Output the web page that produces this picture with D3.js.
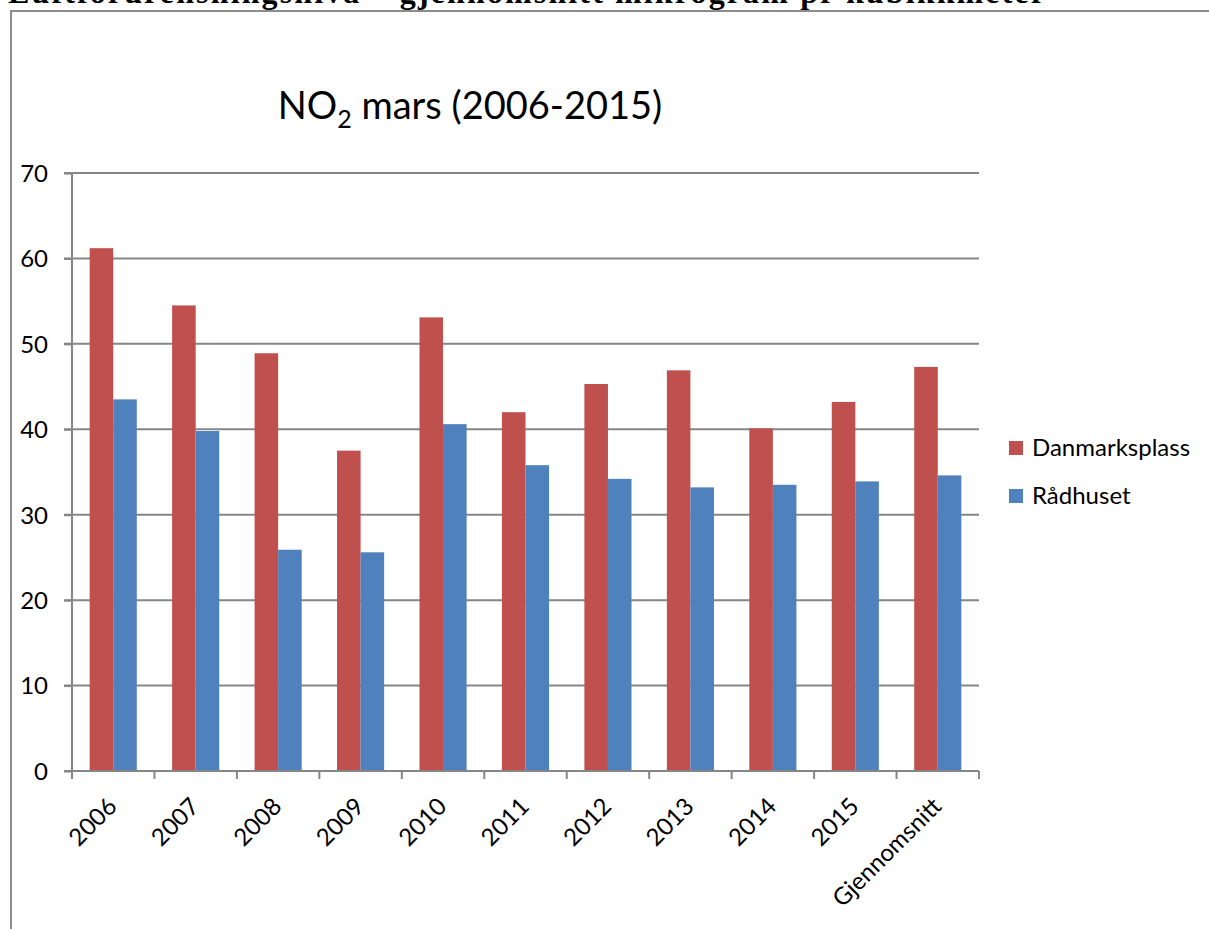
<!DOCTYPE html>
<html>
<head>
<meta charset="utf-8">
<script src="https://cdn.jsdelivr.net/npm/d3@7"></script>
<style>
    body { margin: 0; background: #fff; }
    svg { display: block; }
    .axis text { font-family: Lato, "Noto Sans", sans-serif; font-size: 24px; fill: #000; }
    .axis path, .axis line { stroke: #868686; stroke-width: 2; }
</style>
</head>
<body>
<div id="chart"></div>
<script>
const categories = ["2006","2007","2008","2009","2010","2011","2012","2013","2014","2015","Gjennomsnitt"];
const danmarksplass = [61.2, 54.5, 48.9, 37.5, 53.1, 42.0, 45.3, 46.9, 40.1, 43.2, 47.3];
const radhuset = [43.5, 39.8, 25.9, 25.6, 40.6, 35.8, 34.2, 33.2, 33.5, 33.9, 34.6];
const seriesNames = ["Danmarksplass", "Rådhuset"];
const seriesColors = ["#C0504D", "#4F81BD"];
const yTicks = [0, 10, 20, 30, 40, 50, 60, 70];

const W = 1209, H = 929;
const margin = {top: 173, left: 72, right: W - 979, bottom: H - 771};
const width = W - margin.left - margin.right;
const height = H - margin.top - margin.bottom;

const root = d3.select('#chart').append('svg')
    .attr('width', W)
    .attr('height', H);

// Page heading, cut off at the top like in the source document
root.append('text')
    .attr('x', 8)
    .attr('y', 3)
    .attr('textLength', 1037)
    .style('font-family', '"Liberation Serif", "DejaVu Serif", serif')
    .style('font-weight', 'bold')
    .style('font-size', '32px')
    .text('Luftforurensningsnivå – gjennomsnitt mikrogram pr kubikkmeter');

// Chart frame
root.append('rect')
    .attr('x', 11)
    .attr('y', 11)
    .attr('width', W + 20)
    .attr('height', H + 20)
    .attr('fill', 'none')
    .attr('stroke', '#8c8c8c')
    .attr('stroke-width', 2);

// Title
const title = root.append('text')
    .attr('x', 470)
    .attr('y', 119)
    .attr('text-anchor', 'middle')
    .style('font-family', 'Lato, "Noto Sans", sans-serif')
    .style('font-size', '38px');
title.append('tspan').text('NO');
title.append('tspan').attr('dy', 9).style('font-size', '25px').text('2');
title.append('tspan').attr('dy', -9).text(' mars (2006-2015)');

const svg = root.append('g')
    .attr('transform', `translate(${margin.left},${margin.top})`);

const x0 = d3.scaleBand()
    .domain(categories)
    .range([0, width]);

const x1 = d3.scaleBand()
    .domain(seriesNames)
    .range([0, x0.bandwidth()])
    .paddingInner(0)
    .paddingOuter(0.75);

const y = d3.scaleLinear()
    .domain([0, 70])
    .range([height, 0]);

// Gridlines
svg.append('g')
    .selectAll('line')
    .data(yTicks.filter(d => d > 0))
    .enter().append('line')
    .attr('x1', -8)
    .attr('x2', width)
    .attr('y1', d => y(d))
    .attr('y2', d => y(d))
    .attr('stroke', '#868686')
    .attr('stroke-width', 2);

// Bars
const series = [danmarksplass, radhuset];
const groups = svg.selectAll('.cat')
    .data(categories)
    .enter().append('g')
    .attr('class', 'cat')
    .attr('transform', d => `translate(${x0(d)},0)`);

groups.selectAll('rect')
    .data((d, i) => seriesNames.map((s, k) => ({s, v: series[k][i], c: seriesColors[k]})))
    .enter().append('rect')
    .attr('x', d => x1(d.s))
    .attr('width', x1.bandwidth())
    .attr('y', d => y(d.v))
    .attr('height', d => height - y(d.v))
    .attr('fill', d => d.c);

// Y axis
svg.append('g')
    .attr('class', 'axis')
    .call(d3.axisLeft(y).tickValues(yTicks).tickSize(8).tickPadding(16))
    .call(g => g.select('.domain').attr('d', `M0,${height}V0`))
    .selectAll('text')
    .attr('dy', '0.35em');

// X axis with ticks between categories
const xAxis = svg.append('g')
    .attr('class', 'axis')
    .attr('transform', `translate(0,${height})`);

xAxis.append('line')
    .attr('x1', -8)
    .attr('x2', width)
    .attr('y1', 0)
    .attr('y2', 0);

xAxis.selectAll('.tickmark')
    .data(categories.concat(['end']))
    .enter().append('line')
    .attr('class', 'tickmark')
    .attr('x1', (d, i) => i * x0.step())
    .attr('x2', (d, i) => i * x0.step())
    .attr('y1', 0)
    .attr('y2', 8);

xAxis.selectAll('.lbl')
    .data(categories)
    .enter().append('text')
    .attr('class', 'lbl')
    .attr('text-anchor', 'end')
    .attr('transform', d => `translate(${x0(d) + x0.bandwidth() / 2 + 5},${37}) rotate(-45)`)
    .text(d => d);

// Legend
const legend = root.append('g')
    .attr('transform', 'translate(1009,441)');

legend.selectAll('g')
    .data(seriesNames)
    .enter().append('g')
    .attr('transform', (d, i) => `translate(0,${i * 48})`)
    .each(function(d, i) {
        const g = d3.select(this);
        g.append('rect')
            .attr('width', 14)
            .attr('height', 14)
            .attr('fill', seriesColors[i]);
        g.append('text')
            .attr('x', 23)
            .attr('y', 15)
            .style('font-family', 'Lato, "Noto Sans", sans-serif')
            .style('font-size', '24px')
            .text(d);
    });
</script>
</body>
</html>
